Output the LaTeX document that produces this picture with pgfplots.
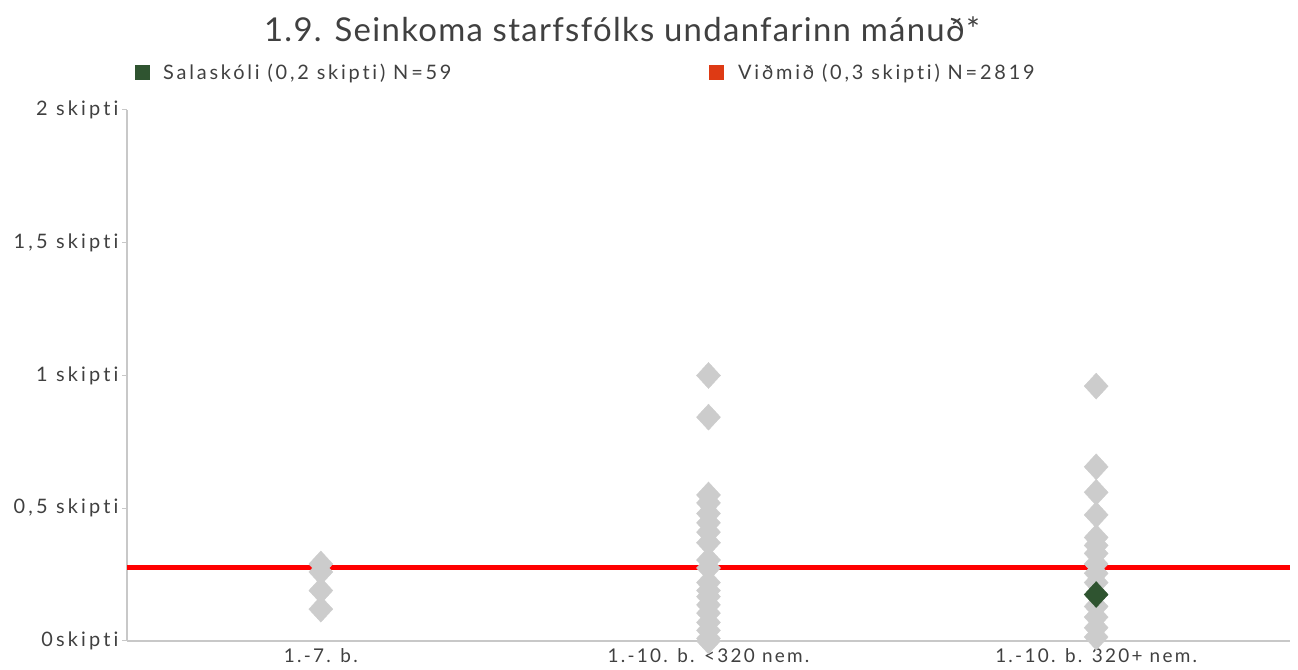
\documentclass[border=0pt]{standalone}
\usepackage{fontspec}
\setmainfont{Lato}[LetterSpace=4, Ligatures=NoCommon]
\newfontfamily\ytickfont{Lato}[LetterSpace=16, Ligatures=NoCommon]
\newfontfamily\xtickfont{Lato}[LetterSpace=12, Ligatures=NoCommon]
\newfontfamily\legfont{Lato}[LetterSpace=14, Ligatures=NoCommon]
\usepackage{pgfplots}
\pgfplotsset{compat=1.18}
\definecolor{txt}{RGB}{64,64,64}
\definecolor{gry}{RGB}{204,204,204}
\definecolor{dgreen}{RGB}{47,84,48}
\definecolor{lred}{RGB}{222,58,20}
\definecolor{axg}{RGB}{200,200,200}
\begin{document}
\begin{tikzpicture}[x=1bp,y=1bp]
\path[use as bounding box] (0,0) rectangle (1298,670);
\begin{axis}[
  at={(127bp,29bp)}, anchor=south west,
  scale only axis, width=1163bp, height=531bp,
  xmin=-0.5, xmax=2.5, ymin=0, ymax=2,
  axis x line*=bottom, axis y line*=left,
  axis line style={axg, line width=1.5pt},
  xtick={0,1,2},
  xticklabels={1.-7. b., 1.-10. b. <320 nem., 1.-10. b. 320+ nem.},
  xtick style={draw=none},
  ytick={0,0.5,1,1.5,2},
  yticklabels={0skipti, {0,5 skipti}, 1 skipti, {1,5 skipti}, 2 skipti},
  ytick style={axg, line width=1pt},
  tick align=outside, major tick length=5bp,
  yticklabel style={font=\ytickfont\fontsize{20}{24}\selectfont, text=txt},
  xticklabel style={font=\xtickfont\fontsize{19}{23}\selectfont, text=txt, yshift=1bp},
  clip=false,
]
\addplot[only marks, mark=diamond*, mark size=13bp, mark options={xscale=1.23, draw=gry, fill=gry}] coordinates {
 (0,0.29) (0,0.26) (0,0.19) (0,0.12)
 (1,1.0) (1,0.843) (1,0.55) (1,0.52) (1,0.48) (1,0.445) (1,0.41) (1,0.37)
 (1,0.305) (1,0.275) (1,0.22) (1,0.19) (1,0.167) (1,0.136) (1,0.105) (1,0.07) (1,0.04) (1,0.01) (1,0.0)
 (2,0.96) (2,0.656) (2,0.56) (2,0.475) (2,0.39) (2,0.36) (2,0.33) (2,0.29) (2,0.255) (2,0.22) (2,0.13) (2,0.09) (2,0.05) (2,0.015)
};
\addplot[red, line width=5bp] coordinates {(-0.5,0.275) (2.5,0.275)};
\addplot[only marks, mark=diamond*, mark size=13bp, mark options={xscale=1.23, draw=dgreen, fill=dgreen}] coordinates {(2,0.175)};
\end{axis}
\node[anchor=base, text=txt, font=\fontsize{33}{38}\selectfont] at (622bp,628bp) {1.9. Seinkoma starfsfólks undanfarinn mánuð*};
\fill[dgreen] (135bp,590bp) rectangle (150bp,605bp);
\node[anchor=base west, inner sep=0pt, text=txt, font=\legfont\fontsize{20}{24}\selectfont] at (163bp,590bp) {Salaskóli (0,2 skipti) N=59};
\fill[lred] (709bp,590bp) rectangle (724bp,605bp);
\node[anchor=base west, inner sep=0pt, text=txt, font=\legfont\fontsize{20}{24}\selectfont] at (738bp,590bp) {Viðmið (0,3 skipti) N=2819};
\end{tikzpicture}
\end{document}
